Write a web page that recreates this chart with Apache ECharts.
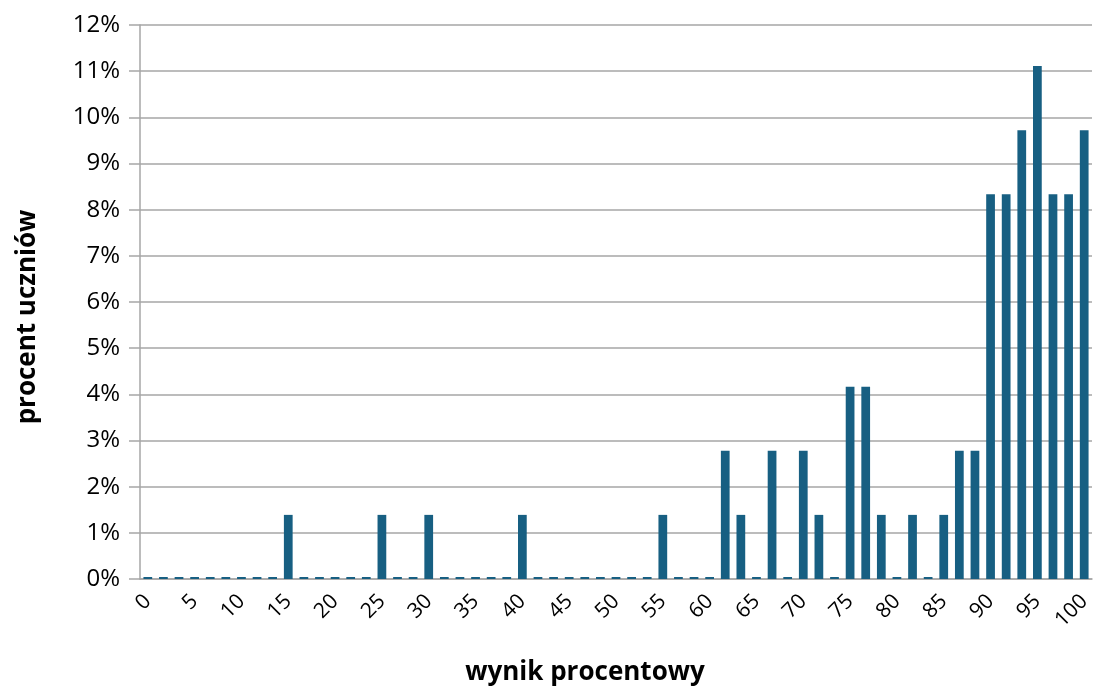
<!DOCTYPE html>
<html>
<head>
<meta charset="utf-8">
<script src="https://cdn.jsdelivr.net/npm/echarts@6/dist/echarts.min.js"></script>
<style>
html,body{margin:0;padding:0;background:#fff;}
#c{width:1094px;height:688px;}
</style>
</head>
<body>
<div id="c"></div>
<script>
// Score in points (0..60), shown as percent of max score
const points = Array.from({length: 61}, (_, i) => i);
const categories = points.map(p => String(Math.round(p * 100 / 60 * 1000) / 1000));
// Number of students (out of 72) per score
const studentCounts = [
  0,0,0,0,0,0,0,0,0,1,
  0,0,0,0,0,1,0,0,1,0,
  0,0,0,0,1,0,0,0,0,0,
  0,0,0,1,0,0,0,2,1,0,
  2,0,2,1,0,3,3,1,0,1,
  0,1,2,2,6,6,7,8,6,6,
  7
];
const totalStudents = 72;
const percentValues = studentCounts.map(c => c / totalStudents * 100);
const yTicks = [0,1,2,3,4,5,6,7,8,9,10,11,12];
const xTitle = 'wynik procentowy';
const yTitle = 'procent uczniów';

const chart = echarts.init(document.getElementById('c'), null, {renderer: 'canvas'});
chart.setOption({
  animation: false,
  textStyle: {fontFamily: 'Open Sans'},
  grid: {left: 140, right: 2, top: 25, height: 554, containLabel: false},
  graphic: [
    {type: 'text', x: 585, y: 673, style: {text: xTitle, fontFamily: 'Open Sans', fontWeight: 'bold', fontSize: 26, fill: '#000', align: 'center', verticalAlign: 'middle'}},
    {type: 'text', x: 28, y: 317, rotation: Math.PI / 2, style: {text: yTitle, fontFamily: 'Open Sans', fontWeight: 'bold', fontSize: 26, fill: '#000', align: 'center', verticalAlign: 'middle'}}
  ],
  xAxis: {
    type: 'category',
    data: categories,
    axisLine: {lineStyle: {color: '#a6a6a6', width: 1.5}},
    axisTick: {show: false},
    axisLabel: {
      interval: 2,
      rotate: 45,
      margin: 19,
      fontSize: 21,
      color: '#000',
      fontFamily: 'Open Sans'
    }
  },
  yAxis: {
    type: 'value',
    min: yTicks[0],
    max: yTicks[yTicks.length - 1],
    interval: 1,
    axisLine: {show: true, lineStyle: {color: '#a6a6a6', width: 1.5}},
    axisTick: {show: true, length: 11, lineStyle: {color: '#a6a6a6', width: 1.5}},
    splitLine: {lineStyle: {color: '#a6a6a6', width: 1.5}},
    axisLabel: {
      formatter: '{value}%',
      margin: 20,
      fontSize: 24,
      color: '#000',
      fontFamily: 'Open Sans'
    }
  },
  series: [{
    type: 'bar',
    data: percentValues,
    barCategoryGap: '44%',
    barMinHeight: 2,
    itemStyle: {color: '#175f82'}
  }]
});
</script>
</body>
</html>
